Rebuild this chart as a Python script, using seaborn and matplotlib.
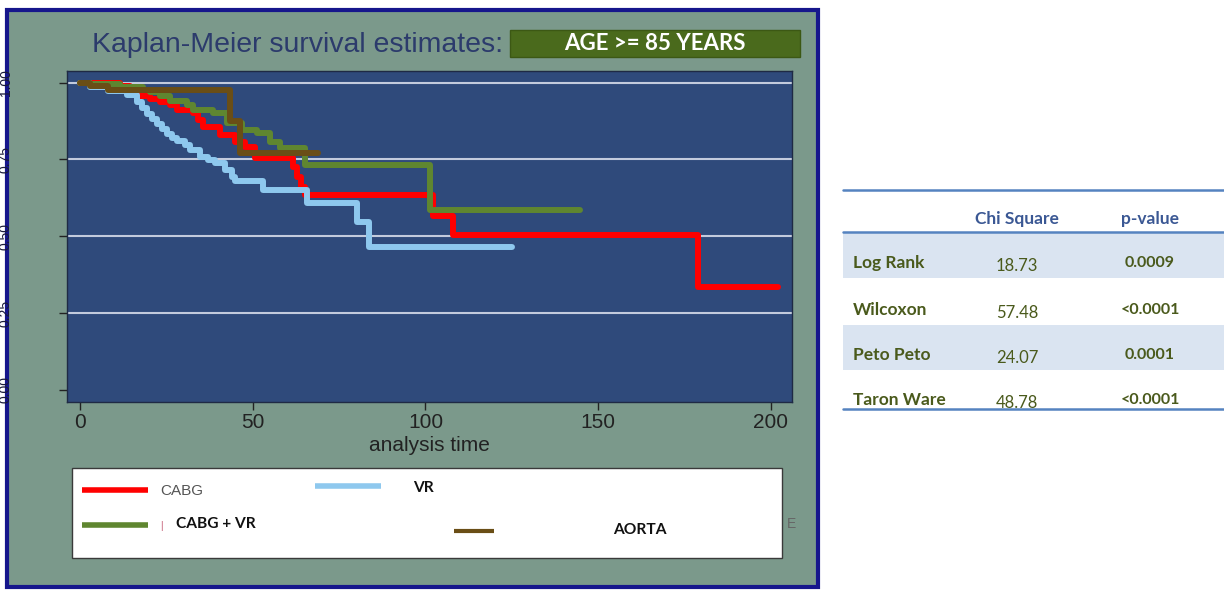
import matplotlib
matplotlib.use("Agg")
import numpy as np
import pandas as pd
import seaborn as sns
import matplotlib.pyplot as plt
from matplotlib.patches import Rectangle
from matplotlib.lines import Line2D

# ---- Kaplan-Meier step data (time, survival) per group ----
groups = ["CABG", "VR", "CABG + VR", "AORTA"]

cabg_time = [0, 11.6, 14.5, 17.4, 20.3, 23.2, 26.0, 28.1, 32.7, 34.2, 35.6, 40.5,
             44.9, 47.8, 50.7, 61.6, 62.8, 64.0, 65.1, 102.2, 108.0, 178.9, 202.0]
cabg_surv = [1.0, 0.989, 0.979, 0.957, 0.947, 0.937, 0.927, 0.911, 0.901, 0.878, 0.856, 0.830,
             0.807, 0.790, 0.755, 0.725, 0.693, 0.660, 0.634, 0.566, 0.504, 0.334, 0.334]

vr_time = [0, 3, 8.1, 13.6, 16.5, 17.9, 19.4, 20.8, 22.3, 23.7, 25.2, 26.6, 28.1,
           30.4, 31.8, 34.7, 37.0, 39.1, 42.0, 44.0, 44.9, 53.0, 65.7, 80.2, 83.6, 125.0]
vr_surv = [1.0, 0.986, 0.973, 0.960, 0.937, 0.918, 0.898, 0.882, 0.865, 0.849, 0.833, 0.820, 0.810,
           0.797, 0.781, 0.758, 0.748, 0.738, 0.716, 0.693, 0.680, 0.652, 0.608, 0.546, 0.464, 0.464]

cabgvr_time = [0, 3, 11.6, 18.2, 20.3, 23.2, 26.0, 31.0, 32.7, 38.5, 42.5, 46.9,
               51.2, 55.0, 57.9, 65.1, 101.3, 144.7]
cabgvr_surv = [1.0, 0.996, 0.986, 0.976, 0.970, 0.957, 0.940, 0.927, 0.911, 0.901, 0.869, 0.846,
               0.836, 0.807, 0.787, 0.732, 0.585, 0.585]

aorta_time = [0, 3, 8, 43.4, 46.3, 68.9]
aorta_surv = [1.0, 0.99, 0.976, 0.875, 0.771, 0.771]

x_ticks = [0, 50, 100, 150, 200]
y_ticks = [0.0, 0.25, 0.5, 0.75, 1.0]
y_tick_labels = ["0.00", "0.25", "0.50", "0.75", "1.00"]
grid_levels = [0.25, 0.5, 0.75, 1.0]

# ---- test statistics table ----
test_names = ["Log Rank", "Wilcoxon", "Peto Peto", "Taron Ware"]
chi_square = ["18.73", "57.48", "24.07", "48.78"]
p_values = ["0.0009", "<0.0001", "0.0001", "<0.0001"]

colors = {"CABG": "#ff0000", "VR": "#8ec8ee", "CABG + VR": "#5f8630", "AORTA": "#6a4e16"}

frames = []
for g, t, s in [("CABG", cabg_time, cabg_surv), ("VR", vr_time, vr_surv),
                ("CABG + VR", cabgvr_time, cabgvr_surv), ("AORTA", aorta_time, aorta_surv)]:
    frames.append(pd.DataFrame({"time": t, "survival": s, "group": g}))
df = pd.concat(frames, ignore_index=True)

W, H = 1224, 590
def fx(px):
    return px / W
def fy(py):
    return 1 - py / H

sns.set_theme(style="white")
plt.rcParams["font.family"] = ["Liberation Sans Narrow", "Liberation Sans", "DejaVu Sans"]

fig = plt.figure(figsize=(W / 100, H / 100), dpi=100, facecolor="white")

# outer panel with navy frame (kept behind the axes)
fig.patches.append(Rectangle((fx(7), fy(587)), fx(818) - fx(7), fy(10) - fy(587),
                             transform=fig.transFigure, facecolor="#7b998b",
                             edgecolor="#16168c", linewidth=3, zorder=-5))

ax = fig.add_axes([fx(67), fy(402), fx(792) - fx(67), fy(71) - fy(402)])
ax.set_zorder(1)
ax.set_facecolor("#2f4a7b")
for lv in grid_levels:
    ax.axhline(lv, color="#c3cbdd", lw=1.5, zorder=1)

sns.lineplot(data=df, x="time", y="survival", hue="group", hue_order=groups,
             palette=colors, estimator=None, sort=False, drawstyle="steps-post",
             linewidth=4.3, legend=False, ax=ax, zorder=3)

ax.set_xlim(-3.76, 206.1)
ax.set_ylim(-0.040, 1.038)
ax.set_xticks(x_ticks)
ax.set_xticklabels([str(v) for v in x_ticks])
ax.set_yticks(y_ticks)
ax.set_yticklabels(y_tick_labels, rotation=90, va="center")
ax.tick_params(axis="x", bottom=True, direction="out", length=6, width=1,
               color="#222222", labelsize=15, labelcolor="#222222", pad=2)
ax.tick_params(axis="y", left=True, direction="out", length=6, width=1,
               color="#222222", labelsize=10, labelcolor="#1a1a3a", pad=33)
ax.set_xlabel("analysis time", fontsize=15, color="#222222", labelpad=3)
ax.set_ylabel("")
for sp in ax.spines.values():
    sp.set_color("#1f2a44")
    sp.set_linewidth(1)

# title and highlighted subgroup box
fig.text(fx(92), fy(45), "Kaplan-Meier survival estimates:", ha="left", va="center",
         fontsize=20.5, color="#2c3b6c")
fig.patches.append(Rectangle((fx(510), fy(57)), fx(800) - fx(510), fy(30) - fy(57),
                             transform=fig.transFigure, facecolor="#4a6a1c",
                             edgecolor="#3c5814", linewidth=1, zorder=1))
fig.text(fx(655), fy(44), "AGE >= 85 YEARS", ha="center", va="center", fontsize=16,
         color="white", fontweight="bold", family=["Lato", "DejaVu Sans"])

# legend panel
fig.patches.append(Rectangle((fx(72), fy(558)), fx(782) - fx(72), fy(468) - fy(558),
                             transform=fig.transFigure, facecolor="white",
                             edgecolor="#3a3a3a", linewidth=1, zorder=1))
legend_items = [
    ("CABG", 82, 148, 490, 160, 491, 4.0, "normal", "#555555"),
    ("VR", 315, 381, 486, 413, 488, 4.0, "bold", "#111111"),
    ("CABG + VR", 82, 148, 525, 176, 524, 4.0, "bold", "#111111"),
    ("AORTA", 454, 494, 531, 613, 530, 3.0, "bold", "#111111"),
]
for name, x0, x1, ly, tx, ty, lw, wt, tc in legend_items:
    fig.add_artist(Line2D([fx(x0), fx(x1)], [fy(ly), fy(ly)], transform=fig.transFigure,
                          color=colors[name], lw=lw, solid_capstyle="butt", zorder=2))
    if wt == "bold":
        fig.text(fx(tx), fy(ty), name, ha="left", va="center", fontsize=11.2,
                 fontweight="bold", color=tc, family=["Lato", "DejaVu Sans"], zorder=3)
    else:
        fig.text(fx(tx), fy(ty), name, ha="left", va="center", fontsize=11,
                 color=tc, family=["Liberation Sans", "DejaVu Sans"], zorder=3)
fig.text(fx(161), fy(526), "|", ha="center", va="center", fontsize=7, color="#c0506a", zorder=3)
fig.text(fx(787), fy(524), "E", ha="left", va="center", fontsize=10, color="#666666")

# statistics table
tab_font = ["Lato", "DejaVu Sans"]
row_y = [263, 310, 355, 400]
shaded_rows = [(233, 278), (325, 370)]
for top, bot in shaded_rows:
    fig.patches.append(Rectangle((fx(843), fy(bot)), fx(1224) - fx(843), fy(top) - fy(bot),
                                 transform=fig.transFigure, facecolor="#dae4f1",
                                 edgecolor="none", zorder=0))
for ly in [190, 232, 409]:
    fig.add_artist(Line2D([fx(843), fx(1224)], [fy(ly), fy(ly)], transform=fig.transFigure,
                          color="#5583c0", lw=1.8, zorder=2))
fig.text(fx(1017), fy(219), "Chi Square", ha="center", va="center", fontsize=12.5,
         fontweight="bold", color="#3b5894", family=tab_font)
fig.text(fx(1150), fy(219), "p-value", ha="center", va="center", fontsize=12.5,
         fontweight="bold", color="#3b5894", family=tab_font)
for name, chi, pv, ry in zip(test_names, chi_square, p_values, row_y):
    fig.text(fx(853), fy(ry), name, ha="left", va="center", fontsize=12.5,
             fontweight="bold", color="#4a5a1c", family=tab_font)
    fig.text(fx(1017), fy(ry + 3), chi, ha="center", va="center", fontsize=12,
             color="#4a5a1c", family=tab_font)
    fig.text(fx(1150), fy(ry), pv, ha="center", va="center", fontsize=11.5,
             fontweight="bold", color="#4a5a1c", family=tab_font)

fig.savefig("out.png", dpi=100, facecolor="white")
